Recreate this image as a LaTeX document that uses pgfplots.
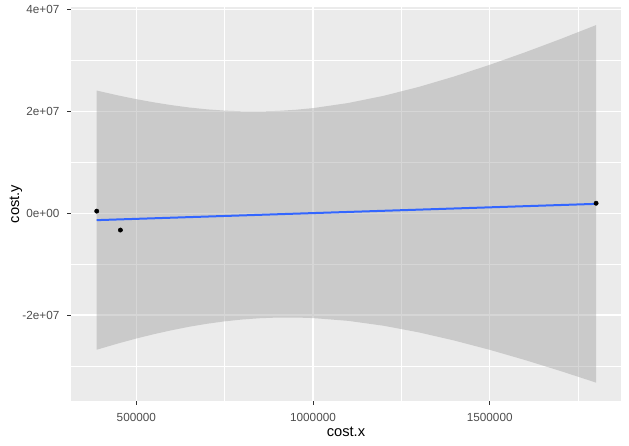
\documentclass[border=0pt]{standalone}
\usepackage{pgfplots}
\pgfplotsset{compat=1.18}
\usepackage{fontspec}
\setmainfont{Liberation Sans}
\definecolor{panelbg}{HTML}{EBEBEB}
\definecolor{tickgray}{HTML}{333333}
\definecolor{labgray}{HTML}{4D4D4D}
\definecolor{bandgray}{HTML}{999999}
\definecolor{smoothblue}{HTML}{3366FF}
\begin{document}
\begin{tikzpicture}
\useasboundingbox (0,0) rectangle (471.75pt,334.5pt);
\begin{axis}[
  at={(53.25pt,33.75pt)}, anchor=south west,
  scale only axis, width=412.3pt, height=295.7pt,
  xmin=315200, xmax=1870700,
  ymin=-3.69e7, ymax=4.06e7,
  axis background/.style={fill=panelbg},
  axis line style={draw=none},
  xtick={500000,1000000,1500000},
  xticklabels={500000,1000000,1500000},
  minor xtick={750000,1250000,1750000},
  ytick={-2e7,0,2e7,4e7},
  yticklabels={-2e+07,0e+00,2e+07,4e+07},
  minor ytick={-3e7,-1e7,1e7,3e7},
  scaled ticks=false,
  grid=both,
  major grid style={white, line width=1pt},
  minor grid style={white, line width=0.5pt},
  xtick pos=bottom, ytick pos=left,
  tick align=outside,
  major tick length=2.75pt, minor tick length=0pt,
  tick style={tickgray, line width=0.75pt},
  /pgf/number format/assume math mode=true,
  tick label style={font=\fontsize{8.8}{10}\selectfont, text=labgray},
  xticklabel style={anchor=north, inner sep=0pt, yshift=-6.2pt},
  yticklabel style={anchor=east, inner sep=0pt, xshift=-5.8pt},
]
% observations
\addplot[only marks, mark=*, mark size=1.6pt, black] coordinates {
  (388000, 4.2e5) (455000, -3.3e6) (1801000, 1.97e6)
};
% confidence band
\addplot[draw=none, fill=bandgray, fill opacity=0.4] coordinates {
  (388000,2.412e7) (450000,2.314e7) (500000,2.243e7) (550000,2.180e7)
  (600000,2.125e7) (650000,2.079e7) (700000,2.043e7) (750000,2.018e7)
  (800000,2.004e7) (850000,2.002e7) (900000,2.012e7) (950000,2.034e7)
  (1000000,2.067e7) (1100000,2.168e7) (1200000,2.309e7) (1300000,2.485e7)
  (1400000,2.690e7) (1500000,2.918e7) (1600000,3.164e7) (1700000,3.424e7)
  (1801000,3.699e7)
  (1801000,-3.329e7) (1700000,-3.100e7) (1600000,-2.885e7) (1500000,-2.684e7)
  (1400000,-2.502e7) (1300000,-2.342e7) (1200000,-2.211e7) (1100000,-2.115e7)
  (1000000,-2.060e7) (950000,-2.049e7) (900000,-2.050e7) (850000,-2.063e7)
  (800000,-2.088e7) (750000,-2.124e7) (700000,-2.172e7) (650000,-2.230e7)
  (600000,-2.299e7) (550000,-2.376e7) (500000,-2.462e7) (450000,-2.556e7)
  (388000,-2.682e7)
} -- cycle;
% fitted line
\addplot[smoothblue, line width=1.5pt] coordinates {
  (388000,-1.35e6) (1801000,1.85e6)
};
\end{axis}
\node[anchor=base, font=\fontsize{11}{13}\selectfont] at (259.5pt,7.1pt) {cost.x};
\node[anchor=base, rotate=90, font=\fontsize{11}{13}\selectfont] at (14.25pt,181.5pt) {cost.y};
\end{tikzpicture}
\end{document}
